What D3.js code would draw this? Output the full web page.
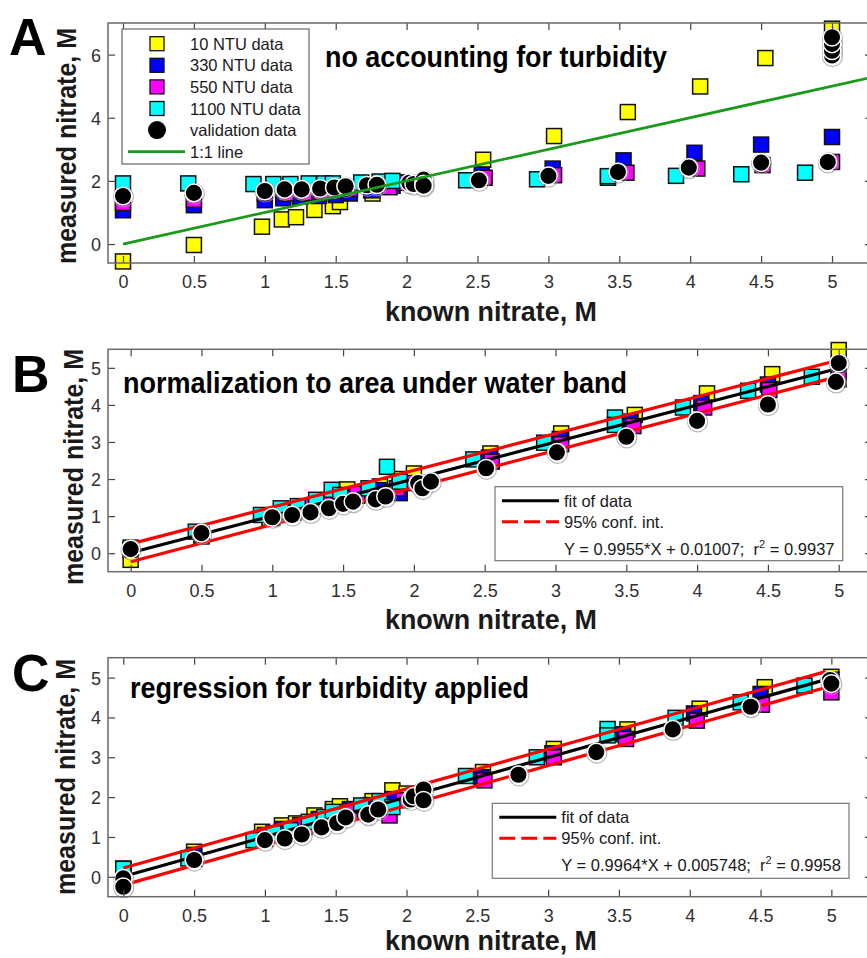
<!DOCTYPE html>
<html>
<head>
<meta charset="utf-8">
<script src="https://cdn.jsdelivr.net/npm/d3@7"></script>
<style>
  body { margin: 0; background: #fff; }
  svg { font-family: "Liberation Sans", Arial, sans-serif; }
  .tick text { fill: #303030; }
</style>
</head>
<body>
<script>
const width = 867;
const height = 958;
const plotLeft = 108;
const plotRight = 872;

// ---- data ----
const xTicks = [0, 0.5, 1, 1.5, 2, 2.5, 3, 3.5, 4, 4.5, 5];
const yTicksA = [0, 2, 4, 6];
const yTicksBC = [0, 1, 2, 3, 4, 5];

const seriesNames = ['10 NTU data', '330 NTU data', '550 NTU data', '1100 NTU data'];
const validationName = 'validation data';

// known nitrate of each turbidity series (shared by the three panels)
const x10 = [0, 0.5, 0.98, 1.12, 1.22, 1.35, 1.48, 1.53, 1.76, 1.9, 2.0, 2.54, 3.04, 3.56, 4.07, 4.53, 5.0];
const x330 = [0, 0.5, 1.0, 1.13, 1.25, 1.38, 1.5, 1.6, 1.75, 1.9, 2.53, 3.03, 3.53, 4.03, 4.5, 5.0];
const x550 = [0, 0.5, 1.0, 1.15, 1.28, 1.4, 1.5, 1.6, 1.88, 1.98, 2.55, 3.04, 3.55, 4.05, 4.51, 5.0];
const x1100 = [0, 0.46, 0.92, 1.06, 1.18, 1.31, 1.42, 1.48, 1.68, 1.81, 1.9, 2.42, 2.92, 3.42, 3.42, 3.9, 4.36, 4.81];

// panel A: no accounting for turbidity
const yA10 = [-0.55, -0.03, 0.55, 0.78, 0.85, 1.08, 1.2, 1.33, 1.6, 1.85, 1.95, 2.67, 3.42, 4.18, 4.99, 5.89, 6.82];
const yA330 = [1.07, 1.23, 1.39, 1.45, 1.5, 1.52, 1.55, 1.6, 1.7, 1.85, 2.2, 2.39, 2.65, 2.89, 3.15, 3.39];
const yA550 = [1.3, 1.4, 1.6, 1.6, 1.62, 1.65, 1.7, 1.75, 1.8, 1.94, 2.1, 2.18, 2.26, 2.39, 2.5, 2.6];
const yA1100 = [1.92, 1.92, 1.9, 1.9, 1.9, 1.92, 1.92, 1.92, 1.95, 1.98, 2.0, 2.02, 2.05, 2.1, 2.15, 2.16, 2.21, 2.26];
const valAx = [0, 0.5, 1.0, 1.14, 1.26, 1.39, 1.49, 1.57, 1.72, 1.79, 2.02, 2.05, 2.12, 2.12, 2.12, 2.51, 3.0, 3.49, 3.99, 4.5, 4.97, 5.0, 5.0, 5.0, 5.0];
const valAy = [1.52, 1.62, 1.68, 1.73, 1.73, 1.76, 1.79, 1.83, 1.86, 1.88, 1.94, 1.9, 2.04, 1.9, 1.85, 2.02, 2.16, 2.28, 2.42, 2.58, 2.6, 5.97, 6.12, 6.34, 6.55];
const oneToOne = [0, 5.3];

// panel B: normalization to area under water band
const yB10 = [-0.18, 0.45, 0.95, 1.1, 1.2, 1.4, 1.5, 1.72, 1.8, 2.0, 2.15, 2.69, 3.23, 3.73, 4.31, 4.83, 5.48];
const yB330 = [0.1, 0.5, 0.95, 1.1, 1.2, 1.4, 1.5, 1.55, 1.7, 1.62, 2.58, 3.08, 3.55, 4.05, 4.55, 5.05];
const yB550 = [0.1, 0.5, 1.0, 1.1, 1.25, 1.4, 1.5, 1.6, 1.75, 1.89, 2.47, 2.94, 3.43, 3.93, 4.4, 4.69];
const yB1100 = [0.15, 0.58, 1.03, 1.21, 1.27, 1.44, 1.71, 1.57, 1.75, 2.33, 1.93, 2.53, 2.98, 3.66, 3.46, 3.93, 4.38, 4.76];
const valBx = [0, 0.5, 1.0, 1.14, 1.27, 1.4, 1.5, 1.57, 1.73, 1.8, 2.03, 2.06, 2.12, 2.51, 3.01, 3.5, 4.0, 4.5, 4.98, 5.0];
const valBy = [0.11, 0.54, 0.97, 1.03, 1.1, 1.21, 1.33, 1.39, 1.45, 1.53, 1.89, 1.75, 1.93, 2.29, 2.72, 3.14, 3.57, 4.01, 4.62, 5.13];
const fitX = [0, 4.96];
const fitB = [0.01, 4.95];
const ciBUpper = [0.25, 5.17];
const ciBLower = [-0.23, 4.73];

// panel C: regression for turbidity applied
const yC10 = [0.2, 0.63, 1.13, 1.29, 1.34, 1.54, 1.7, 1.77, 1.9, 2.17, 2.09, 2.63, 3.21, 3.7, 4.22, 4.76, 5.02];
const yC330 = [0.2, 0.55, 1.05, 1.2, 1.3, 1.45, 1.6, 1.7, 1.8, 1.95, 2.5, 3.1, 3.58, 4.1, 4.59, 4.95];
const yC550 = [0.15, 0.45, 0.95, 1.1, 1.25, 1.4, 1.55, 1.65, 1.54, 1.92, 2.42, 3.0, 3.46, 3.92, 4.32, 4.63];
const yC1100 = [0.2, 0.46, 0.92, 1.09, 1.17, 1.38, 1.5, 1.63, 1.79, 1.9, 1.75, 2.53, 3.0, 3.71, 3.55, 3.99, 4.38, 4.8];
const valCx = [0, 0, 0.5, 1.0, 1.14, 1.26, 1.4, 1.51, 1.57, 1.73, 1.8, 2.03, 2.05, 2.12, 2.12, 2.79, 3.34, 3.88, 4.43, 4.99, 5.0];
const valCy = [-0.04, -0.25, 0.42, 0.92, 0.96, 1.06, 1.24, 1.35, 1.49, 1.56, 1.69, 1.94, 2.02, 2.19, 1.92, 2.56, 3.13, 3.7, 4.27, 4.94, 4.85];
const fitC = [0.006, 4.95];
const ciCUpper = [0.22, 5.15];
const ciCLower = [-0.21, 4.75];

// ---- styles ----
const seriesColors = ['#ffff00', '#0000ff', '#ff00ff', '#00ffff'];
const boxColor = '#6a6a6a';
const greenColor = '#1a9a1a';
const sq = 15;

const svg = d3.select('body').append('svg')
  .attr('width', width)
  .attr('height', height);

function drawSquares(g, x, y, xs, ys, color) {
  g.selectAll(null)
    .data(d3.zip(xs, ys))
    .join('rect')
    .attr('x', d => x(d[0]) - sq / 2)
    .attr('y', d => y(d[1]) - sq / 2)
    .attr('width', sq)
    .attr('height', sq)
    .attr('fill', color)
    .attr('stroke', '#111')
    .attr('stroke-width', 1.5);
}

function drawCircles(g, x, y, xs, ys) {
  const pts = d3.zip(xs, ys);
  g.selectAll(null)
    .data(pts)
    .join('circle')
    .attr('cx', d => x(d[0]) + 0.5)
    .attr('cy', d => y(d[1]) + 1)
    .attr('r', 10)
    .attr('fill', 'none')
    .attr('stroke', '#999')
    .attr('stroke-opacity', 0.7)
    .attr('stroke-width', 1.2);
  g.selectAll(null)
    .data(pts)
    .join('circle')
    .attr('cx', d => x(d[0]))
    .attr('cy', d => y(d[1]))
    .attr('r', 8.8)
    .attr('fill', '#000')
    .attr('stroke', '#fff')
    .attr('stroke-width', 1.5);
}

function drawLine(g, x, y, xs, ys, color, w) {
  g.append('path')
    .attr('d', d3.line().x(d => x(d[0])).y(d => y(d[1]))(d3.zip(xs, ys)))
    .attr('fill', 'none')
    .attr('stroke', color)
    .attr('stroke-width', w);
}

function drawAxes(g, x, y, top, bottom, yTicks) {
  const fmt = d => String(d);

  const bx = g.append('g')
    .attr('transform', `translate(0, ${bottom})`)
    .call(d3.axisBottom(x).tickValues(xTicks).tickSize(-7).tickFormat(fmt));
  bx.selectAll('text').attr('y', 25).attr('dy', 0).style('font-size', '18px');

  g.append('g')
    .attr('transform', `translate(0, ${top})`)
    .call(d3.axisTop(x).tickValues(xTicks).tickSize(-7).tickFormat(''));

  const ly = g.append('g')
    .attr('transform', `translate(${plotLeft}, 0)`)
    .call(d3.axisLeft(y).tickValues(yTicks).tickSize(-7).tickPadding(7).tickFormat(fmt));
  ly.selectAll('text').style('font-size', '18px').attr('dy', '0.36em');

  g.append('g')
    .attr('transform', `translate(${plotRight}, 0)`)
    .call(d3.axisRight(y).tickValues(yTicks).tickSize(-7).tickFormat(''));

  g.selectAll('.domain').remove();
  g.selectAll('.tick line').attr('stroke', '#444').attr('stroke-width', 1.2);
}

function drawBox(g, top, bottom) {
  g.append('rect')
    .attr('x', plotLeft)
    .attr('y', top)
    .attr('width', plotRight - plotLeft)
    .attr('height', bottom - top)
    .attr('fill', 'none')
    .attr('stroke', boxColor)
    .attr('stroke-width', 1.5);
}

function drawLabels(g, p) {
  g.append('text')
    .attr('x', p.letterX).attr('y', p.letterY)
    .style('font-size', '52px').style('font-weight', 'bold')
    .text(p.letter);

  g.append('text')
    .attr('x', p.titleX).attr('y', p.titleY)
    .attr('textLength', p.titleLen).attr('lengthAdjust', 'spacingAndGlyphs')
    .style('font-size', '29px').style('font-weight', 'bold')
    .text(p.title);

  g.append('text')
    .attr('x', 491).attr('y', p.xTitleY)
    .attr('text-anchor', 'middle')
    .attr('textLength', 212).attr('lengthAdjust', 'spacingAndGlyphs')
    .style('font-size', '28px').style('font-weight', 'bold')
    .style('fill', '#1a1a1a')
    .text('known nitrate, M');

  g.append('text')
    .attr('transform', `translate(${p.yTitleX}, ${p.yTitleY}) rotate(-90)`)
    .attr('text-anchor', 'middle')
    .attr('textLength', 236).attr('lengthAdjust', 'spacingAndGlyphs')
    .style('font-size', '27px').style('font-weight', 'bold')
    .style('fill', '#1a1a1a')
    .text('measured nitrate, M');
}

function drawFitLegend(g, L) {
  g.append('rect')
    .attr('x', L.x0).attr('y', L.y0)
    .attr('width', L.x1 - L.x0).attr('height', L.y1 - L.y0)
    .attr('fill', '#fff').attr('stroke', '#777').attr('stroke-width', 1.2);
  g.append('line')
    .attr('x1', L.x0 + 7).attr('x2', L.x0 + 64)
    .attr('y1', L.y0 + 14).attr('y2', L.y0 + 14)
    .attr('stroke', '#000').attr('stroke-width', 3);
  g.append('line')
    .attr('x1', L.x0 + 7).attr('x2', L.x0 + 64)
    .attr('y1', L.y0 + 35).attr('y2', L.y0 + 35)
    .attr('stroke', '#ff0000').attr('stroke-width', 3)
    .attr('stroke-dasharray', '16,6');
  const t = g.append('g').style('font-size', '16.5px').style('fill', '#1a1a1a');
  t.append('text').attr('x', L.x0 + 69).attr('y', L.y0 + 20).text('fit of data');
  t.append('text').attr('x', L.x0 + 69).attr('y', L.y0 + 41).text('95% conf. int.');
  const eq = t.append('text').attr('x', L.x0 + 69).attr('y', L.y0 + 68)
    .style('white-space', 'pre');
  eq.append('tspan').text(L.eq);
  eq.append('tspan').attr('dy', -7).style('font-size', '11px').text('2');
  eq.append('tspan').attr('dy', 7).text(L.r2);
}

const ySeriesA = [yA10, yA330, yA550, yA1100];
const ySeriesB = [yB10, yB330, yB550, yB1100];
const ySeriesC = [yC10, yC330, yC550, yC1100];
const xSeries = [x10, x330, x550, x1100];

// ---------- panel A ----------
{
  const top = 23, bottom = 263;
  const x = d3.scaleLinear().domain([-0.1058, 5.282]).range([plotLeft, plotRight]);
  const y = d3.scaleLinear().domain([-0.6, 7]).range([bottom, top]);
  const g = svg.append('g');

  xSeries.forEach((xs, i) => drawSquares(g, x, y, xs, ySeriesA[i], seriesColors[i]));
  drawCircles(g, x, y, valAx, valAy);
  drawLine(g, x, y, oneToOne, oneToOne, greenColor, 2.8);
  drawAxes(g, x, y, top, bottom, yTicksA);
  drawBox(g, top, bottom);

  // legend
  const lg = g.append('g');
  lg.append('rect').attr('x', 122).attr('y', 29).attr('width', 187).attr('height', 135)
    .attr('fill', '#fff').attr('stroke', '#666').attr('stroke-width', 1.2);
  const rowY = i => 43.7 + i * 21.6;
  seriesNames.forEach((name, i) => {
    lg.append('rect').attr('x', 157 - 7).attr('y', rowY(i) - 7).attr('width', 14).attr('height', 14)
      .attr('fill', seriesColors[i]).attr('stroke', '#111').attr('stroke-width', 1.3);
    lg.append('text').attr('x', 190).attr('y', rowY(i) + 6).style('font-size', '16.5px')
      .style('fill', '#1a1a1a').text(name);
  });
  lg.append('circle').attr('cx', 157).attr('cy', rowY(4)).attr('r', 9).attr('fill', '#000');
  lg.append('text').attr('x', 190).attr('y', rowY(4) + 6).style('font-size', '16.5px')
    .style('fill', '#1a1a1a').text(validationName);
  lg.append('line').attr('x1', 128).attr('x2', 185).attr('y1', rowY(5)).attr('y2', rowY(5))
    .attr('stroke', greenColor).attr('stroke-width', 2.8);
  lg.append('text').attr('x', 190).attr('y', rowY(5) + 6).style('font-size', '16.5px')
    .style('fill', '#1a1a1a').text('1:1 line');

  drawLabels(g, {
    letter: 'A', letterX: 9, letterY: 55,
    title: 'no accounting for turbidity', titleX: 325, titleY: 67, titleLen: 342,
    xTitleY: 321, yTitleX: 76, yTitleY: 146
  });
}

// ---------- panel B ----------
{
  const top = 349.3, bottom = 571.7;
  const x = d3.scaleLinear().domain([-0.16, 5.235]).range([plotLeft, plotRight]);
  const y = d3.scaleLinear().domain([-0.5, 5.5]).range([bottom, top]);
  const g = svg.append('g');

  xSeries.forEach((xs, i) => drawSquares(g, x, y, xs, ySeriesB[i], seriesColors[i]));
  drawLine(g, x, y, fitX, ciBUpper, '#ff0000', 3.2);
  drawLine(g, x, y, fitX, ciBLower, '#ff0000', 3.2);
  drawLine(g, x, y, fitX, fitB, '#000', 3.2);
  drawCircles(g, x, y, valBx, valBy);
  drawAxes(g, x, y, top, bottom, yTicksBC);
  drawBox(g, top, bottom);

  drawFitLegend(g, {
    x0: 495, y0: 486.7, x1: 842.7, y1: 560.7,
    eq: 'Y = 0.9955*X + 0.01007;  r', r2: ' = 0.9937'
  });

  drawLabels(g, {
    letter: 'B', letterX: 12, letterY: 392,
    title: 'normalization to area under water band', titleX: 123, titleY: 393, titleLen: 504,
    xTitleY: 629, yTitleX: 83, yTitleY: 467
  });
}

// ---------- panel C ----------
{
  const top = 657.7, bottom = 896.7;
  const x = d3.scaleLinear().domain([-0.108, 5.287]).range([plotLeft, plotRight]);
  const y = d3.scaleLinear().domain([-0.5, 5.5]).range([bottom, top]);
  const g = svg.append('g');

  xSeries.forEach((xs, i) => drawSquares(g, x, y, xs, ySeriesC[i], seriesColors[i]));
  drawLine(g, x, y, fitX, ciCUpper, '#ff0000', 3.2);
  drawLine(g, x, y, fitX, ciCLower, '#ff0000', 3.2);
  drawLine(g, x, y, fitX, fitC, '#000', 3.2);
  drawCircles(g, x, y, valCx, valCy);
  drawAxes(g, x, y, top, bottom, yTicksBC);
  drawBox(g, top, bottom);

  drawFitLegend(g, {
    x0: 492.3, y0: 803.3, x1: 849, y1: 878.3,
    eq: 'Y = 0.9964*X + 0.005748;  r', r2: ' = 0.9958'
  });

  drawLabels(g, {
    letter: 'C', letterX: 12, letterY: 691,
    title: 'regression for turbidity applied', titleX: 130, titleY: 698, titleLen: 399,
    xTitleY: 950, yTitleX: 75, yTitleY: 777
  });
}
</script>
</body>
</html>
